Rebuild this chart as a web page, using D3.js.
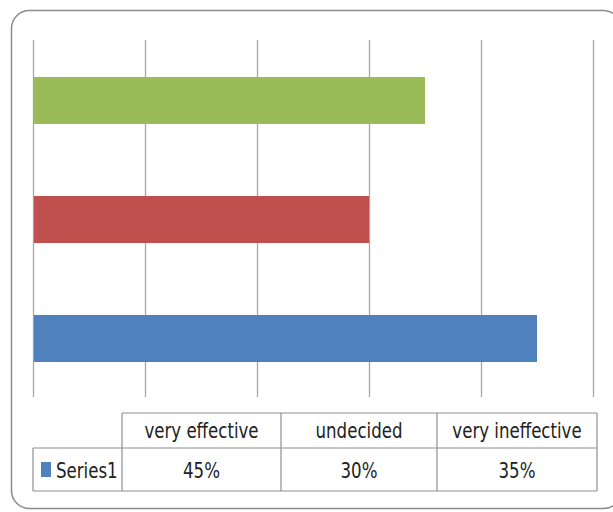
<!DOCTYPE html>
<html><head><meta charset="utf-8">
<script src="https://cdn.jsdelivr.net/npm/d3@7"></script>
<style>body{margin:0;background:#fff}svg{display:block}</style>
</head><body>
<svg id="c" width="613" height="512"></svg>
<script>
const categories = ["very effective", "undecided", "very ineffective"];
const values = [45, 30, 35];
const valueLabels = ["45%", "30%", "35%"];
const seriesName = "Series1";
const barColors = ["#4F81BD", "#C0504D", "#9BBB59"];
const xTicks = [0, 10, 20, 30, 40, 50];

(function () {
const svg = d3.select("#c");
const font = "'DejaVu Sans Condensed','DejaVu Sans',sans-serif";

// outer rounded frame
svg.append("rect").attr("x", 11.5).attr("y", 10.5).attr("width", 610).attr("height", 498)
  .attr("rx", 18).attr("ry", 18).attr("fill", "#fff").attr("stroke", "#8c8c8c").attr("stroke-width", 1.5);

const pLeft = 33, pRight = 593, pTop = 40, pBottom = 397;
const x = d3.scaleLinear().domain([0, 50]).range([pLeft, pRight]);
const y = d3.scaleBand().domain(categories.slice().reverse()).range([pTop, pBottom]).padding(0);

// gridlines
svg.append("g").selectAll("line").data(xTicks).join("line")
  .attr("x1", d => Math.round(x(d)) + 0.5).attr("x2", d => Math.round(x(d)) + 0.5)
  .attr("y1", pTop).attr("y2", pBottom)
  .attr("stroke", "#a6a6a6").attr("stroke-width", 1.3);

// bars
const bh = y.bandwidth() * 0.395;
svg.append("g").selectAll("rect").data(categories).join("rect")
  .attr("x", x(0) + 1)
  .attr("y", d => y(d) + (y.bandwidth() - bh) / 2 + 1)
  .attr("width", (d, i) => x(values[i]) - x(0) - 1)
  .attr("height", bh)
  .attr("fill", (d, i) => barColors[i]);

// data table
const colEdges = [33, 122, 281, 437, 597];
const rowEdges = [413, 448, 491];
const tg = svg.append("g").attr("stroke", "#8f8f8f").attr("stroke-width", 1.2).attr("fill", "none");
tg.append("line").attr("x1", colEdges[1]).attr("x2", colEdges[4]).attr("y1", rowEdges[0]).attr("y2", rowEdges[0]);
tg.append("line").attr("x1", colEdges[0]).attr("x2", colEdges[4]).attr("y1", rowEdges[1]).attr("y2", rowEdges[1]);
tg.append("line").attr("x1", colEdges[0]).attr("x2", colEdges[4]).attr("y1", rowEdges[2]).attr("y2", rowEdges[2]);
colEdges.forEach((cx, i) => {
  tg.append("line").attr("x1", cx).attr("x2", cx)
    .attr("y1", i === 0 ? rowEdges[1] : rowEdges[0]).attr("y2", rowEdges[2]);
});

const txt = svg.append("g").attr("font-family", font).attr("font-size", 21).attr("fill", "#222");
function label(tx, ty, s, anchor) {
  txt.append("text").attr("transform", `translate(${tx},${ty}) scale(0.88,1)`)
    .attr("text-anchor", anchor).text(s);
}
categories.forEach((c, i) => {
  const cx = (colEdges[i + 1] + colEdges[i + 2]) / 2;
  label(cx, (rowEdges[0] + rowEdges[1]) / 2 + 7, c, "middle");
  label(cx, (rowEdges[1] + rowEdges[2]) / 2 + 8, valueLabels[i], "middle");
});
svg.append("rect").attr("x", 41).attr("y", 462).attr("width", 10).attr("height", 15).attr("fill", barColors[0]);
label(56, (rowEdges[1] + rowEdges[2]) / 2 + 8, seriesName, "start");
})();
</script>
</body></html>
